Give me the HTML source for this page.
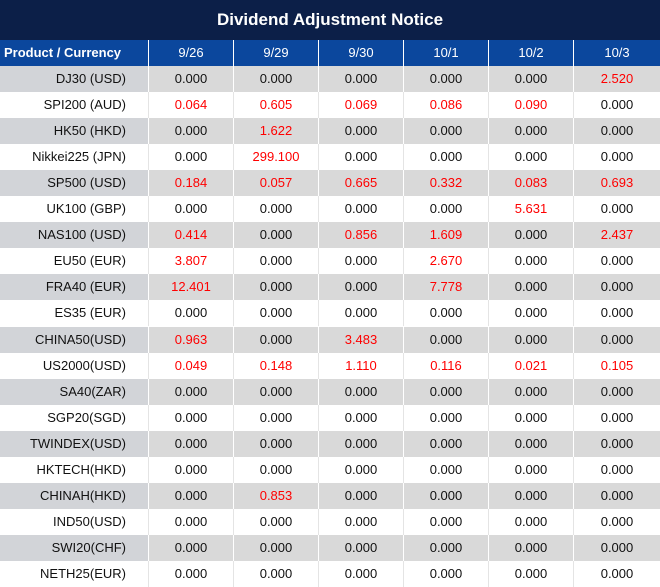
<!DOCTYPE html><html><head><style>
body{margin:0;width:660px;height:587px;overflow:hidden;background:#fff;font-family:"Liberation Sans",sans-serif}
.t{position:absolute;left:0;top:0;width:660px;height:40px;background:#0c1f48;color:#fff;font-weight:bold;font-size:17px;text-align:center;line-height:40px}
.r{position:absolute;left:0;width:660px;height:26px;display:flex}
.r div{box-sizing:border-box;line-height:26px;font-size:13px;text-align:center;width:85px;border-right:1px solid #e4e4e4;color:#111}
.r div:first-child{width:149px;text-align:right;padding-right:22px}
.r div:last-child{width:86px;border-right:none}
.h{background:#0b479d}.h div{color:#fff;border-right:1px solid #fff}
.h div:first-child{text-align:left;padding-left:4px;font-weight:bold}
.g{background:#d9d9d9}.g div{border-right-color:#fff}.g div:first-child{background:#d2d4d8}
.red{color:#f00!important}
</style></head><body>
<div class="t">Dividend Adjustment Notice</div>
<div id="c"></div>
<script>
var rows=[["DJ30 (USD)","0.000","0.000","0.000","0.000","0.000","2.520"],
["SPI200 (AUD)","0.064","0.605","0.069","0.086","0.090","0.000"],
["HK50 (HKD)","0.000","1.622","0.000","0.000","0.000","0.000"],
["Nikkei225 (JPN)","0.000","299.100","0.000","0.000","0.000","0.000"],
["SP500 (USD)","0.184","0.057","0.665","0.332","0.083","0.693"],
["UK100 (GBP)","0.000","0.000","0.000","0.000","5.631","0.000"],
["NAS100 (USD)","0.414","0.000","0.856","1.609","0.000","2.437"],
["EU50 (EUR)","3.807","0.000","0.000","2.670","0.000","0.000"],
["FRA40 (EUR)","12.401","0.000","0.000","7.778","0.000","0.000"],
["ES35 (EUR)","0.000","0.000","0.000","0.000","0.000","0.000"],
["CHINA50(USD)","0.963","0.000","3.483","0.000","0.000","0.000"],
["US2000(USD)","0.049","0.148","1.110","0.116","0.021","0.105"],
["SA40(ZAR)","0.000","0.000","0.000","0.000","0.000","0.000"],
["SGP20(SGD)","0.000","0.000","0.000","0.000","0.000","0.000"],
["TWINDEX(USD)","0.000","0.000","0.000","0.000","0.000","0.000"],
["HKTECH(HKD)","0.000","0.000","0.000","0.000","0.000","0.000"],
["CHINAH(HKD)","0.000","0.853","0.000","0.000","0.000","0.000"],
["IND50(USD)","0.000","0.000","0.000","0.000","0.000","0.000"],
["SWI20(CHF)","0.000","0.000","0.000","0.000","0.000","0.000"],
["NETH25(EUR)","0.000","0.000","0.000","0.000","0.000","0.000"]];
var h='<div class="r h" style="top:40px"><div>Product / Currency</div><div>9/26</div><div>9/29</div><div>9/30</div><div>10/1</div><div>10/2</div><div>10/3</div></div>';
rows.forEach(function(r,i){var top=66+Math.round(i*26.05);h+='<div class="r'+(i%2==0?' g':'')+'" style="top:'+top+'px">';
r.forEach(function(v,j){h+='<div'+(j>0&&v!="0.000"?' class="red"':'')+'>'+v+'</div>'});h+='</div>'});
document.getElementById('c').innerHTML=h;
</script></body></html>
